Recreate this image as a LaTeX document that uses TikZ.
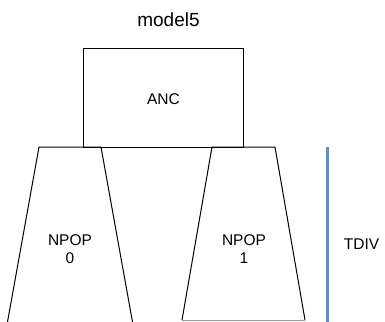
\documentclass[tikz,border=0pt]{standalone}
\usepackage{fontspec}
\setmainfont{Liberation Sans}
\begin{document}
\begin{tikzpicture}[x=1pt,y=-1pt,
  edge/.style={draw=black,line width=1pt,line join=miter},
  label/.style={inner sep=0pt,align=center,font=\fontsize{15.5}{18.5}\selectfont},
  title/.style={inner sep=0pt,font=\fontsize{19}{22}\selectfont},
  timebar/.style={draw={rgb,255:red,92;green,144;blue,204},line width=3pt}]
\useasboundingbox (0,0) rectangle (385,321);

% ancestral population box
\draw[edge] (83,49) rectangle (243,147);
\node[label] (anc) at (163.5,98.7) {ANC};

% daughter population 0
\coordinate (p0tl) at (39,147);
\coordinate (p0tr) at (101,147);
\coordinate (p0bl) at (7.5,322);
\coordinate (p0br) at (132.5,322);
\draw[edge] (p0bl) -- (p0tl) -- (p0tr) -- (p0br);
\node[label] (npop0) at (70,249) {NPOP\\0};

% daughter population 1
\coordinate (p1tl) at (212,147);
\coordinate (p1tr) at (275,147);
\coordinate (p1bl) at (182,320);
\coordinate (p1br) at (305,320);
\draw[edge] (p1bl) -- (p1tl) -- (p1tr) -- (p1br);
\draw[draw=black!40,line width=1pt] (p1bl) -- (p1br);
\node[label] (npop1) at (244,249) {NPOP\\1};

% divergence time bar
\coordinate (tdtop) at (327,147);
\coordinate (tdbot) at (327,322);
\draw[timebar] (tdtop) -- (tdbot);
\node[label] (tdiv) at (361.5,243.7) {TDIV};

\node[title] (model) at (168.5,19.5) {model5};
\end{tikzpicture}
\end{document}
